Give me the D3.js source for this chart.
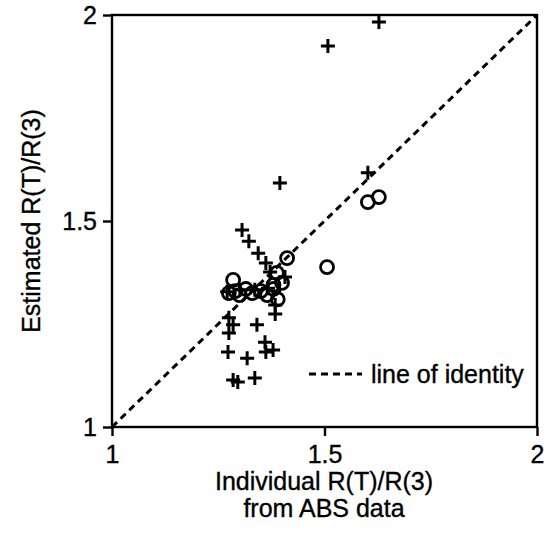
<!DOCTYPE html>
<html><head><meta charset="utf-8">
<script src="https://cdn.jsdelivr.net/npm/d3@7"></script>
<style>body{margin:0;background:#fff}svg{display:block}text{font-family:Arial,"Liberation Sans",Helvetica,sans-serif;fill:#000;stroke:#000;stroke-width:0.35px}</style>
</head><body><svg id="c" width="548" height="545"></svg>
<script>
const xTicks=[1,1.5,2];
const yTicks=[1,1.5,2];
const plusX=[1.628,1.508,1.395,1.602,1.306,1.322,1.344,1.362,1.372,1.407,1.384,1.384,1.275,1.285,1.275,1.341,1.360,1.362,1.379,1.273,1.318,1.296,1.285,1.336,1.271,1.301,1.336,1.367];
const plusY=[1.983,1.925,1.592,1.617,1.478,1.451,1.422,1.398,1.376,1.364,1.296,1.274,1.265,1.248,1.228,1.248,1.206,1.182,1.187,1.182,1.167,1.109,1.114,1.119,1.328,1.333,1.333,1.337];
const circX=[1.602,1.628,1.506,1.412,1.275,1.290,1.300,1.315,1.330,1.350,1.365,1.380,1.285,1.388,1.400,1.390,1.380];
const circY=[1.546,1.558,1.388,1.410,1.325,1.330,1.320,1.335,1.325,1.330,1.320,1.335,1.357,1.374,1.350,1.310,1.345];
const identity=[1,2];

const svg=d3.select("#c");
const L=112,R=537,T=15,B=427;
const x=d3.scaleLinear().domain([1,2]).range([L,R]);
const y=d3.scaleLinear().domain([1,2]).range([B,T]);

svg.append("line").attr("x1",x(identity[0])).attr("y1",y(identity[0])).attr("x2",x(identity[1])).attr("y2",y(identity[1]))
  .attr("stroke","#000").attr("stroke-width",3).attr("stroke-dasharray","7,5");

svg.append("rect").attr("x",L).attr("y",T).attr("width",R-L).attr("height",B-T).attr("fill","none").attr("stroke","#000").attr("stroke-width",2.4);

const xa=svg.append("g").attr("transform",`translate(0,${B})`).call(d3.axisBottom(x).tickValues(xTicks).tickFormat(d3.format("")).tickSize(9).tickPadding(9).tickSizeOuter(0));
const ya=svg.append("g").attr("transform",`translate(${L},0)`).call(d3.axisLeft(y).tickValues(yTicks).tickFormat(d3.format("")).tickSize(9).tickPadding(6).tickSizeOuter(0));
[xa,ya].forEach(g=>{g.select(".domain").remove();g.selectAll("line").attr("stroke","#000").attr("stroke-width",2.4);
  g.selectAll("text").style("font-size","25px").style("font-family","Arial, 'Liberation Sans', sans-serif").attr("fill","#000");});

svg.append("g").selectAll("circle").data(circX.map((d,i)=>[d,circY[i]])).join("circle")
  .attr("cx",d=>x(d[0])).attr("cy",d=>y(d[1])).attr("r",6.5).attr("fill","none").attr("stroke","#000").attr("stroke-width",2.8);

const ps=7;
svg.append("g").selectAll("path").data(plusX.map((d,i)=>[d,plusY[i]])).join("path")
  .attr("d",d=>{const cx=x(d[0]),cy=y(d[1]);return `M${cx-ps},${cy}H${cx+ps}M${cx},${cy-ps}V${cy+ps}`;})
  .attr("stroke","#000").attr("stroke-width",3).attr("fill","none");

svg.append("line").attr("x1",309).attr("x2",362).attr("y1",374).attr("y2",374).attr("stroke","#000").attr("stroke-width",3).attr("stroke-dasharray","7,5");
svg.append("text").attr("x",371).attr("y",383).style("font-size","25px").text("line of identity");

svg.append("text").attr("x",324).attr("y",490).attr("text-anchor","middle").style("font-size","25px").text("Individual R(T)/R(3)");
svg.append("text").attr("x",324).attr("y",517).attr("text-anchor","middle").style("font-size","25px").text("from ABS data");
svg.append("text").attr("transform",`translate(40,${(T+B)/2}) rotate(-90)`).attr("text-anchor","middle").style("font-size","25px").text("Estimated R(T)/R(3)");
</script></body></html>
